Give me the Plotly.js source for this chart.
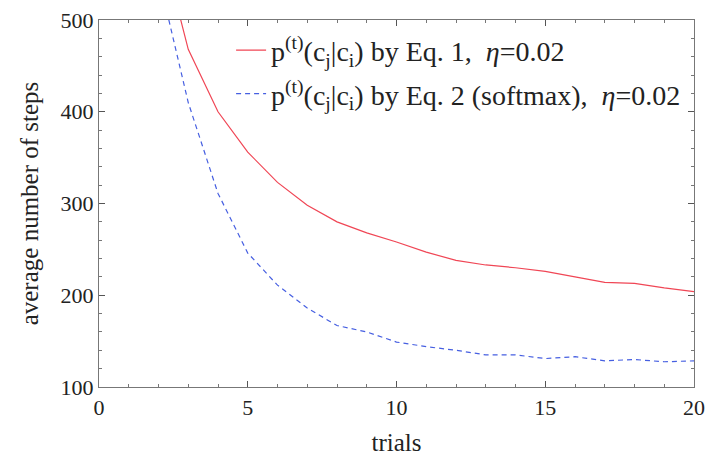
<!DOCTYPE html>
<html><head><meta charset="utf-8">
<script src="https://cdn.plot.ly/plotly-3.0.1.min.js"></script>
<style>body{margin:0;background:#fff}#chart{width:706px;height:456px}</style>
</head><body><div id="chart"></div>
<script>
const trials = [2, 3, 4, 5, 6, 7, 8, 9, 10, 11, 12, 13, 14, 15, 16, 17, 18, 19, 20];
const eq1Steps = [595, 468, 400, 356, 323, 298, 280, 268, 258, 247, 238, 233, 230, 226, 220, 214, 213, 208, 204];
const eq2Steps = [548, 410, 311, 246, 211, 186, 167, 160, 149, 144, 140, 135, 135, 131, 133, 128.5, 130, 127.5, 128.5];
const seriesNames = [
  'p<sup>(t)</sup>(c<sub>j</sub>|c<sub>i</sub>) by Eq. 1,  <i>η</i>=0.02',
  'p<sup>(t)</sup>(c<sub>j</sub>|c<sub>i</sub>) by Eq. 2 (softmax),  <i>η</i>=0.02'
];

const data = [
  {x: trials, y: eq1Steps, name: seriesNames[0], legendgroup: 'a', mode: 'lines', type: 'scatter',
   line: {color: 'rgb(240,70,85)', width: 1.2}},
  {x: trials, y: eq2Steps, name: seriesNames[1], legendgroup: 'b', mode: 'lines', type: 'scatter',
   line: {color: 'rgb(70,95,225)', width: 1.2, dash: '5px,4px'}}
];
const axisCommon = {
  showline: true, linecolor: '#777', linewidth: 1.3, mirror: 'ticks',
  ticks: 'inside', ticklen: 6, tickcolor: '#555', tickwidth: 1,
  showgrid: false, zeroline: false
};
const layout = {
  width: 706, height: 456,
  font: {family: 'Liberation Serif', size: 22, color: '#222'},
  margin: {l: 99, r: 12, t: 20, b: 69},
  paper_bgcolor: '#fff', plot_bgcolor: '#fff',
  showlegend: true,
  legend: {x: 0.222, y: 0.985, xanchor: 'left', yanchor: 'top', bgcolor: 'rgba(0,0,0,0)',
           tracegroupgap: 4, font: {size: 28}},
  xaxis: Object.assign({}, axisCommon, {
    range: [0, 20], dtick: 5, tick0: 0,
    tickfont: {size: 22},
    minor: {dtick: 1, ticks: 'inside', ticklen: 3, tickcolor: '#777'},
    title: {text: 'trials', font: {size: 25}, standoff: 17}
  }),
  yaxis: Object.assign({}, axisCommon, {
    range: [100, 500], dtick: 100, tick0: 100,
    tickfont: {size: 22},
    minor: {dtick: 20, ticks: 'inside', ticklen: 3, tickcolor: '#777'},
    title: {text: 'average number of steps', font: {size: 25}, standoff: 14}
  })
};
Plotly.newPlot('chart', data, layout, {displayModeBar: false});
</script></body></html>
